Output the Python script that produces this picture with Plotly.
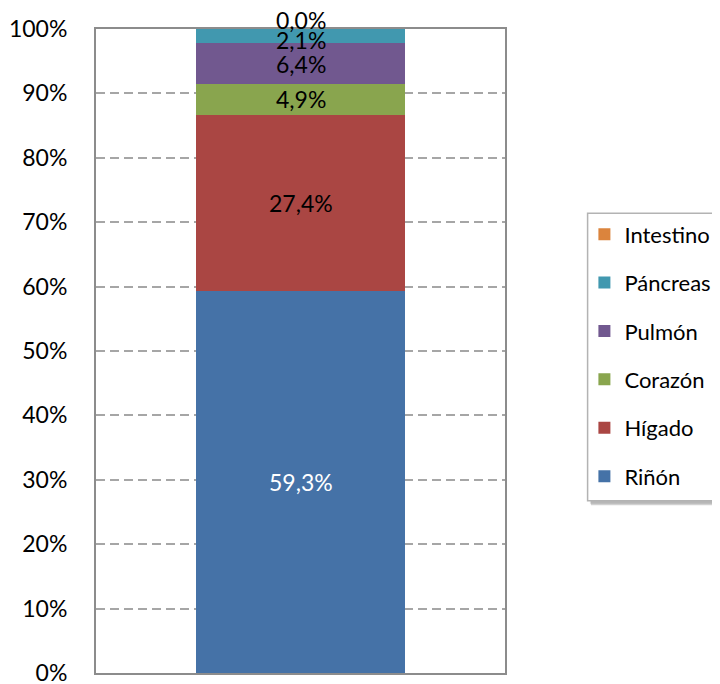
import plotly.graph_objects as go

# ---- data (bottom to top of the stack) ----
category = ["Total"]
organs = ["Riñón", "Hígado", "Corazón", "Pulmón", "Páncreas", "Intestino"]
shares = [59.3, 27.4, 4.9, 6.4, 2.1, 0.0]
tick_values = [0, 10, 20, 30, 40, 50, 60, 70, 80, 90, 100]
tick_labels = ["0%", "10%", "20%", "30%", "40%", "50%", "60%", "70%", "80%", "90%", "100%"]

# ---- style ----
colors = ["#4572A7", "#AA4643", "#89A54E", "#71588F", "#4198AF", "#DB843D"]
label_colors = ["white", "black", "black", "black", "black", "black"]
label_yshift = [0, 0, 0, -1, -4, 9]
FONT = "Lato, 'Noto Sans', sans-serif"
FS = 23
LFS = 22

fig = go.Figure()
n = len(organs)
for i, (name, val, col) in enumerate(zip(organs, shares, colors)):
    fig.add_trace(go.Bar(
        x=category, y=[val], name=name, marker=dict(color=col, line=dict(width=0)),
        width=0.51, legendgroup=name, legendrank=n - i, hoverinfo="name+y",
    ))

# data labels from cumulative sums (normalised like barnorm)
total = sum(shares)
cum = 0.0
for val, lc, ys in zip(shares, label_colors, label_yshift):
    mid = (cum + val / 2.0) / total * 100.0
    cum += val
    fig.add_annotation(
        x=category[0], y=mid, text=f"{val:.1f}%".replace(".", ","),
        showarrow=False, font=dict(family=FONT, size=FS, color=lc),
        yshift=ys, xref="x", yref="y",
    )

# page body has an 8px margin; compensate so the plot lands where the reference has it
OFF = 8
W, H = 720 - OFF, 684 - OFF
ml, mr, mt, mb = 95.5 - OFF, 215, 29.3 - OFF, 11.3
pw, ph = W - ml - mr, H - mt - mb

def px(xp):
    return (xp - OFF - ml) / pw

def py(yp):
    return (H - mb - (yp - OFF)) / ph

# legend frame (runs off the right edge like the reference) with soft shadow
fig.add_shape(type="rect", xref="paper", yref="paper",
              x0=px(591), x1=px(760), y0=py(505), y1=py(218),
              fillcolor="rgba(0,0,0,0.18)", line=dict(width=0), layer="above")
fig.add_shape(type="rect", xref="paper", yref="paper",
              x0=px(590), x1=px(760), y0=py(503.5), y1=py(216),
              fillcolor="rgba(0,0,0,0.12)", line=dict(width=0), layer="above")
fig.add_shape(type="rect", xref="paper", yref="paper",
              x0=px(587.7), x1=px(760), y0=py(500.7), y1=py(213.5),
              fillcolor="white", line=dict(color="#B3B3B3", width=1.5), layer="above")

fig.update_layout(
    width=W, height=H, autosize=False,
    margin=dict(l=ml, r=mr, t=mt, b=mb, autoexpand=False),
    paper_bgcolor="white", plot_bgcolor="white",
    barmode="stack", barnorm="percent",
    font=dict(family=FONT, size=FS, color="black"),
    showlegend=True,
    legend=dict(
        x=px(584.5), y=py(213.5), xanchor="left", yanchor="top",
        traceorder="grouped", tracegroupgap=16.8,
        bgcolor="rgba(0,0,0,0)", borderwidth=0,
        font=dict(family=FONT, size=LFS, color="black"),
        itemsizing="constant",
    ),
    xaxis=dict(range=[-0.5, 0.5], showticklabels=False, showgrid=False, zeroline=False,
               showline=True, linecolor="#8C8C8C", linewidth=2, mirror=True, ticks=""),
    yaxis=dict(range=[0, 100], tickvals=tick_values, ticktext=tick_labels,
               showgrid=True, gridcolor="#A6A6A6", gridwidth=1.5, griddash="9px,5px",
               zeroline=False, showline=True, linecolor="#8C8C8C", linewidth=2, mirror=True,
               ticks="", ticklabelstandoff=22, ticklabeloverflow="allow",
               tickfont=dict(family=FONT, size=FS, color="black")),
)

fig.write_html("out.html")
